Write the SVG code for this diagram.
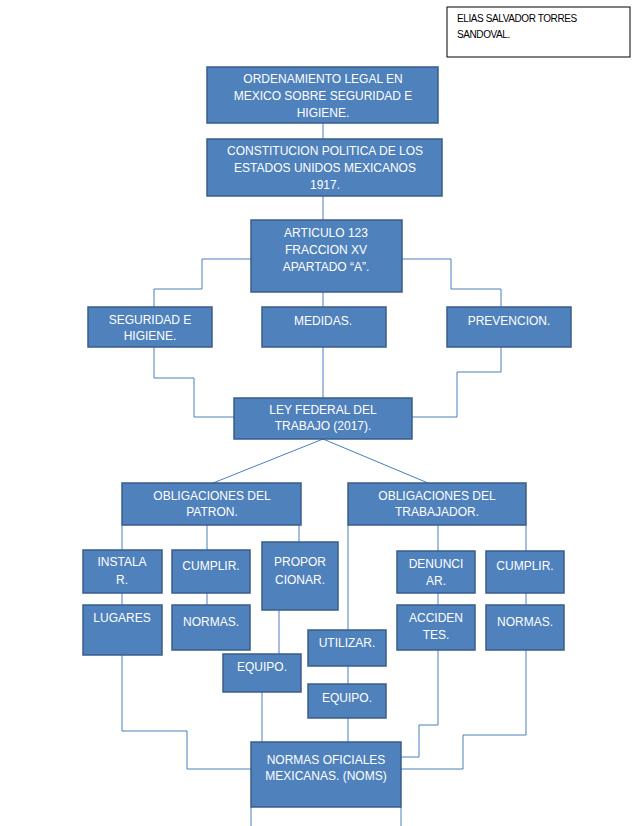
<svg xmlns="http://www.w3.org/2000/svg" width="638" height="826" viewBox="0 0 638 826">
<style>
.n{fill:#4F81BD;stroke:#385D8A;stroke-width:1.5}
.t{fill:#fff;font-family:"Liberation Sans",Arial,sans-serif;font-size:12px;text-anchor:middle}
.c{fill:none;stroke:#4A7EBB;stroke-width:1}
.a{font-family:"Liberation Sans",Arial,sans-serif;font-size:10px;letter-spacing:-0.4px;fill:#000}
</style>
<rect width="638" height="826" fill="#fff"/>
<g id="author"><rect x="447" y="7" width="183" height="50" fill="#fff" stroke="#000" stroke-width="1"/>
<text class="a" x="457" y="22">ELIAS SALVADOR TORRES</text>
<text class="a" x="457" y="38">SANDOVAL.</text></g>
<g id="connectors" class="c">
<path d="M323 123V139M323 196V220"/>
<path d="M251 259H202V289H154V307"/>
<path d="M402 259H451V289H501V307"/>
<path d="M323 292V307M323 347V398"/>
<path d="M154 347V378H194V417H234"/>
<path d="M501 347V372H457V417H412"/>
<path d="M323 439L213 483M323 439L428 483"/>
<path d="M122 525V550M207 525V550M299 525V542"/>
<path d="M122 593V605M207 593V605M279 610V654"/>
<path d="M348 525V630M438 525V551M526 525V551"/>
<path d="M438 593V605M526 593V605M348 666V684M348 718V742M262 692V742"/>
<path d="M122 655V731H187V769H251"/>
<path d="M438 650V725H419V757H401"/>
<path d="M526 650V735H463V769H401"/>
<path d="M251 807V826M401 807V826"/>
</g>
<g id="ordenamiento"><rect class="n" x="207" y="67" width="231" height="56"/><text class="t"><tspan x="323" y="83">ORDENAMIENTO LEGAL EN</tspan><tspan x="323" y="100">MEXICO SOBRE SEGURIDAD E</tspan><tspan x="323" y="117">HIGIENE.</tspan></text></g>
<g id="constitucion"><rect class="n" x="207" y="139" width="235" height="57"/><text class="t"><tspan x="325" y="155">CONSTITUCION POLITICA DE LOS</tspan><tspan x="325" y="172">ESTADOS UNIDOS MEXICANOS</tspan><tspan x="325" y="189">1917.</tspan></text></g>
<g id="articulo"><rect class="n" x="251" y="220" width="151" height="72"/><text class="t"><tspan x="326" y="237">ARTICULO 123</tspan><tspan x="326" y="254">FRACCION XV</tspan><tspan x="326" y="271">APARTADO “A”.</tspan></text></g>
<g id="seguridad"><rect class="n" x="88" y="307" width="124" height="40"/><text class="t"><tspan x="150" y="324">SEGURIDAD E</tspan><tspan x="150" y="340">HIGIENE.</tspan></text></g>
<g id="medidas"><rect class="n" x="262" y="307" width="124" height="40"/><text class="t" x="323" y="325">MEDIDAS.</text></g>
<g id="prevencion"><rect class="n" x="447" y="307" width="124" height="40"/><text class="t" x="509" y="325">PREVENCION.</text></g>
<g id="ley"><rect class="n" x="234" y="398" width="178" height="41"/><text class="t"><tspan x="323" y="414">LEY FEDERAL DEL</tspan><tspan x="323" y="430">TRABAJO (2017).</tspan></text></g>
<g id="oblig-patron"><rect class="n" x="122" y="483" width="179" height="42"/><text class="t"><tspan x="212" y="500">OBLIGACIONES DEL</tspan><tspan x="212" y="516">PATRON.</tspan></text></g>
<g id="oblig-trabajador"><rect class="n" x="348" y="483" width="178" height="42"/><text class="t"><tspan x="437" y="500">OBLIGACIONES DEL</tspan><tspan x="437" y="516">TRABAJADOR.</tspan></text></g>
<g id="instalar"><rect class="n" x="83" y="550" width="79" height="43"/><text class="t"><tspan x="122" y="566">INSTALA</tspan><tspan x="122" y="584">R.</tspan></text></g>
<g id="cumplir1"><rect class="n" x="172" y="550" width="78" height="43"/><text class="t" x="211" y="570">CUMPLIR.</text></g>
<g id="proporcionar"><rect class="n" x="262" y="542" width="76" height="68"/><text class="t"><tspan x="300" y="566">PROPOR</tspan><tspan x="300" y="584">CIONAR.</tspan></text></g>
<g id="lugares"><rect class="n" x="83" y="605" width="79" height="50"/><text class="t" x="122" y="622">LUGARES</text></g>
<g id="normas1"><rect class="n" x="172" y="605" width="78" height="45"/><text class="t" x="211" y="626">NORMAS.</text></g>
<g id="equipo1"><rect class="n" x="223" y="654" width="78" height="38"/><text class="t" x="262" y="671">EQUIPO.</text></g>
<g id="utilizar"><rect class="n" x="308" y="630" width="78" height="36"/><text class="t" x="347" y="647">UTILIZAR.</text></g>
<g id="equipo2"><rect class="n" x="308" y="684" width="78" height="34"/><text class="t" x="347" y="702">EQUIPO.</text></g>
<g id="denunciar"><rect class="n" x="397" y="551" width="78" height="42"/><text class="t"><tspan x="436" y="568">DENUNCI</tspan><tspan x="436" y="585">AR.</tspan></text></g>
<g id="cumplir2"><rect class="n" x="486" y="551" width="78" height="42"/><text class="t" x="525" y="570">CUMPLIR.</text></g>
<g id="accidentes"><rect class="n" x="397" y="605" width="78" height="45"/><text class="t"><tspan x="436" y="622">ACCIDEN</tspan><tspan x="436" y="639">TES.</tspan></text></g>
<g id="normas2"><rect class="n" x="486" y="605" width="78" height="45"/><text class="t" x="525" y="626">NORMAS.</text></g>
<g id="noms"><rect class="n" x="251" y="742" width="150" height="65"/><text class="t"><tspan x="326" y="764">NORMAS OFICIALES</tspan><tspan x="326" y="780">MEXICANAS. (NOMS)</tspan></text></g>
</svg>
